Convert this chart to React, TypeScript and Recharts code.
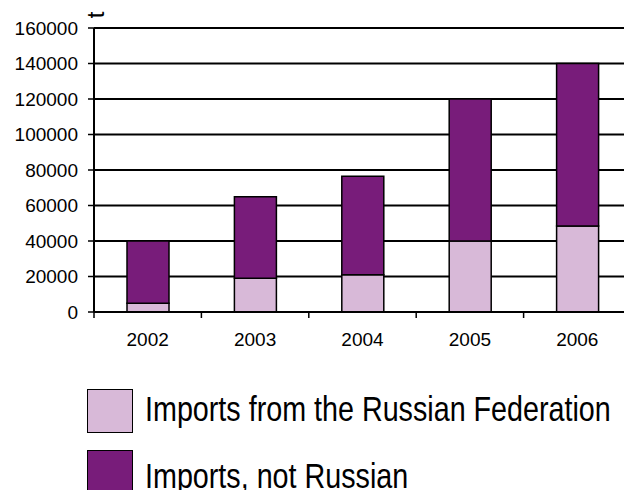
import { Bar, BarChart, CartesianGrid, Legend, XAxis, YAxis, Label } from "recharts"

const years = ['2002', '2003', '2004', '2005', '2006']
const russian = [5000, 19000, 21000, 40000, 48500]
const notRussian = [35000, 46000, 55500, 80000, 91500]
const yTicks = [0, 20000, 40000, 60000, 80000, 100000, 120000, 140000, 160000]

const data = years.map((year, i) => ({ year, russian: russian[i], notRussian: notRussian[i] }))

const FONT = '"Liberation Sans", Arial, sans-serif'

const XTick = (props: any) => {
    const { x, y, payload } = props
    const left = x - (payload.offset ?? 53.7)
    return (
        <g>
            <line x1={left} x2={left} y1={y - 21} y2={y - 15} stroke='#000' strokeWidth={1.5} />
            <text x={x} y={y} dy='0.71em' textAnchor='middle' fontSize={19} fill='#000' fontFamily={FONT}>
                {payload.value}
            </text>
        </g>
    )
}

// no narrow font installed, so squeeze the regular one
const renderLegend = (props: any) => {
    const items = props.payload ?? []
    return (
        <div>
            {items.map((item: any, i: number) => (
                <div key={item.value} style={{ display: 'flex', alignItems: 'flex-start', height: 61 }}>
                    <div style={{
                        width: 46, height: 44, boxSizing: 'border-box', flex: 'none',
                        background: item.color, border: '1.5px solid #000', marginRight: 12
                    }} />
                    <span style={{
                        fontFamily: FONT, fontSize: 35, lineHeight: 1, color: '#000', whiteSpace: 'nowrap',
                        marginTop: i === 0 ? 2 : 8,
                        display: 'inline-block', transform: 'scaleX(0.82)', transformOrigin: 'left center'
                    }}>{item.value}</span>
                </div>
            ))}
        </div>
    )
}

export default function App() {
    return (
        <div style={{ position: 'fixed', left: 0, top: 0, width: 624, height: 490, overflow: 'hidden', background: '#fff' }}>
            <BarChart
                width={640}
                height={490}
                data={data}
                barSize={42}
                margin={{ top: 28, right: 9, left: 0, bottom: 148 }}>
                <CartesianGrid vertical={false} stroke='#000' strokeWidth={2} />
                <XAxis
                    dataKey='year'
                    height={30}
                    axisLine={{ stroke: '#000', strokeWidth: 2 }}
                    tickLine={false}
                    tickSize={0}
                    tickMargin={21}
                    tick={<XTick />}
                    interval={0}
                />
                <YAxis
                    width={94}
                    domain={[0, 160000]}
                    ticks={yTicks}
                    interval={0}
                    axisLine={{ stroke: '#000', strokeWidth: 2 }}
                    tickLine={{ stroke: '#000', strokeWidth: 1.5 }}
                    tickSize={6}
                    tickMargin={10}
                    tick={{ fill: '#000', fontSize: 19, fontFamily: FONT }}>
                    <Label
                        content={(p: any) => {
                            const vb = p.viewBox || { x: 0, y: 28, width: 94 }
                            const cx = vb.x + vb.width + 1
                            const cy = vb.y - 13
                            return (
                                <text x={cx} y={cy} textAnchor='middle' dominantBaseline='central'
                                    fontSize={24} fontFamily={FONT} fill='#000'
                                    transform={`rotate(-90, ${cx}, ${cy})`}>t</text>
                            )
                        }}
                    />
                </YAxis>
                <Legend
                    layout='horizontal'
                    verticalAlign='middle'
                    align='center'
                    wrapperStyle={{ position: 'absolute', left: 87, top: 389, width: 540 }}
                    content={renderLegend}
                />
                <Bar dataKey='russian' stackId='a' name='Imports from the Russian Federation'
                    fill='#D8B9D8' stroke='#000' strokeWidth={1.5} isAnimationActive={false} />
                <Bar dataKey='notRussian' stackId='a' name='Imports, not Russian'
                    fill='#781C7A' stroke='#000' strokeWidth={1.5} isAnimationActive={false} />
            </BarChart>
        </div>
    )
}
